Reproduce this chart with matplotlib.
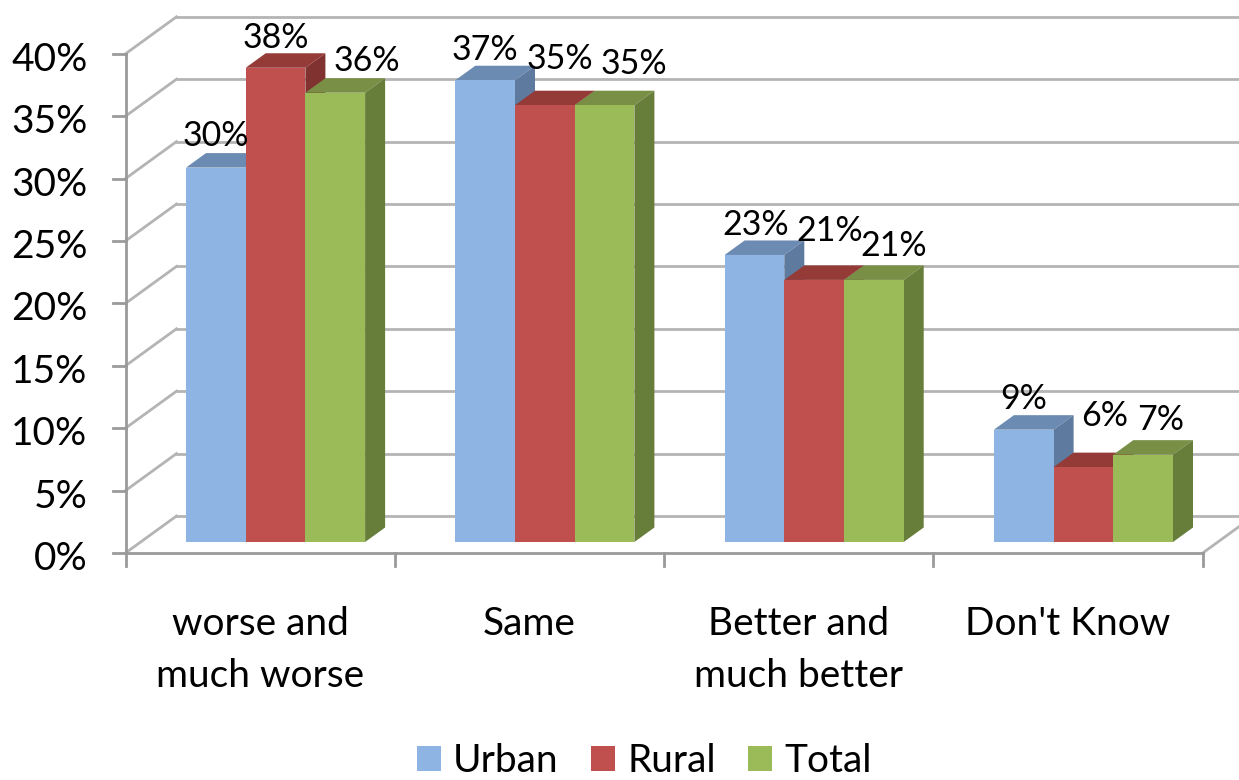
import matplotlib
matplotlib.use("Agg")
import matplotlib.pyplot as plt
from matplotlib.patches import Polygon

plt.rcParams['font.family'] = ['Lato', 'DejaVu Sans']

categories = ["worse and\nmuch worse", "Same", "Better and\nmuch better", "Don't Know"]
urban = [30, 37, 23, 9]
rural = [38, 35, 21, 6]
total = [36, 35, 21, 7]
series_names = ["Urban", "Rural", "Total"]
series_values = [urban, rural, total]
y_ticks = [0, 5, 10, 15, 20, 25, 30, 35, 40]

front_colors = ["#8EB4E3", "#C0504D", "#9BBB59"]
top_colors = ["#6C8BB2", "#943B38", "#788F45"]
side_colors = ["#5E7A9E", "#7F3230", "#677D3A"]
grid_color = "#B4B4B4"
axis_color = "#9A9A9A"

W, H = 1239, 780
X0, Y0 = 125.5, 553.0
PX_CAT = 269.3
PX_PCT = 12.48
FS_AXIS = 28
FS_DATA = 24.5

fig = plt.figure(figsize=(W / 100, H / 100), dpi=100)
ax = fig.add_axes([0, 0, 1, 1])
ax.set_xlim(-X0 / PX_CAT, (W - X0) / PX_CAT)
ax.set_ylim((Y0 - H) / PX_PCT, Y0 / PX_PCT)
ax.axis("off")

def dx(px):
    return px / PX_CAT

def dy(px):
    return px / PX_PCT

wall_dx, wall_dy = dx(51), dy(37)
depth_dx, depth_dy = dx(20), dy(14.5)
bar_w = dx(59.7)
bar_lift = dy(11)
group_left = dx(60.5)
n_cat = len(categories)
LW = 2.0

# walls, floor, axes
for t in y_ticks:
    ax.plot([wall_dx, (W + 5 - X0) / PX_CAT], [t + wall_dy] * 2, color=grid_color, lw=LW, zorder=1)
    ax.plot([0, wall_dx], [t, t + wall_dy], color=grid_color, lw=LW, zorder=1)
    ax.plot([-dx(13), 0], [t, t], color=axis_color, lw=LW, zorder=2)
ax.plot([n_cat, n_cat + wall_dx], [0, wall_dy], color=grid_color, lw=LW, zorder=1)
ax.plot([0, 0], [0, y_ticks[-1]], color=axis_color, lw=LW, zorder=2)
ax.plot([0, n_cat], [0, 0], color=axis_color, lw=LW, zorder=2)
for i in range(n_cat + 1):
    ax.plot([i, i], [0, -dy(13)], color=axis_color, lw=LW, zorder=2)

for t in y_ticks:
    ax.text(-dx(38), t - dy(6), f"{t}%", ha="right", va="center", fontsize=FS_AXIS)

for i, c in enumerate(categories):
    ax.text(i + 0.5, -dy(53), c, ha="center", va="top", fontsize=FS_AXIS, linespacing=1.55)

# bars
handles = []
for s, (name, vals) in enumerate(zip(series_names, series_values)):
    xs = [i + group_left + s * bar_w for i in range(n_cat)]
    tops = [v + bar_lift for v in vals]
    z = 3 + s
    h = ax.bar(xs, vals, width=bar_w, bottom=bar_lift, align="edge",
               color=front_colors[s], zorder=z + 0.5, label=name)
    handles.append(h)
    for x, top in zip(xs, tops):
        ax.add_patch(Polygon([(x, top), (x + bar_w, top),
                              (x + bar_w + depth_dx, top + depth_dy),
                              (x + depth_dx, top + depth_dy)],
                             closed=True, fc=top_colors[s], ec="none", zorder=z))
        ax.add_patch(Polygon([(x + bar_w, bar_lift), (x + bar_w + depth_dx, bar_lift + depth_dy),
                              (x + bar_w + depth_dx, top + depth_dy), (x + bar_w, top)],
                             closed=True, fc=side_colors[s], ec="none", zorder=z))

# data labels, nudged from the centre of each bar's front top edge (px)
label_dx = [[0, 0, 32], [0, 15, 29], [1, 16, 20], [0, 21, 17]]
label_dy = [[32, 30, 32], [30.5, 46, 41], [30, 49, 34], [31, 51, 35]]
for i in range(n_cat):
    for s, vals in enumerate(series_values):
        cx = i + group_left + (s + 0.5) * bar_w + dx(label_dx[i][s])
        cy = vals[i] + bar_lift + dy(label_dy[i][s])
        ax.text(cx, cy, f"{vals[i]}%", ha="center", va="center", fontsize=FS_DATA, zorder=10)

ax.legend(handles=handles, loc="lower left", bbox_to_anchor=(417 / W, 1 / H), ncol=3, frameon=False,
          fontsize=FS_AXIS, handlelength=0.62, handleheight=0.62, handletextpad=0.31,
          columnspacing=0.83, borderpad=0, borderaxespad=0)

fig.savefig("out.png", dpi=100)
